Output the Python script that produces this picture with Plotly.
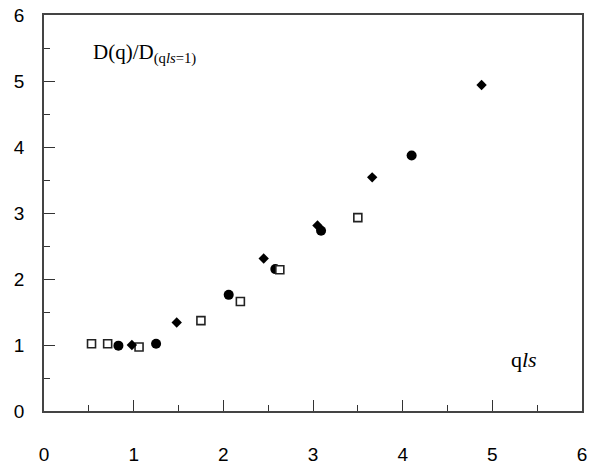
import plotly.graph_objects as go

# Data
circle_x = [0.83, 1.25, 2.06, 2.58, 3.09, 4.10]
circle_y = [0.99, 1.02, 1.76, 2.15, 2.73, 3.87]

diamond_x = [0.98, 1.48, 2.45, 3.05, 3.66, 4.88]
diamond_y = [1.00, 1.34, 2.31, 2.81, 3.54, 4.94]

square_x = [0.53, 0.71, 1.06, 1.75, 2.19, 2.63, 3.50]
square_y = [1.02, 1.02, 0.97, 1.37, 1.66, 2.14, 2.93]

tick_vals = [0, 1, 2, 3, 4, 5, 6]

fig = go.Figure()
fig.add_trace(go.Scatter(x=circle_x, y=circle_y, mode="markers",
                         marker=dict(symbol="circle", size=10, color="black"),
                         showlegend=False))
fig.add_trace(go.Scatter(x=square_x, y=square_y, mode="markers",
                         marker=dict(symbol="square", size=8, color="white",
                                     line=dict(color="#222", width=1.6)),
                         showlegend=False))
fig.add_trace(go.Scatter(x=diamond_x, y=diamond_y, mode="markers",
                         marker=dict(symbol="diamond", size=8, color="black"),
                         showlegend=False))

axis_common = dict(
    range=[0, 6], tickvals=tick_vals, ticks="inside", ticklen=11, tickwidth=1.3,
    tickcolor="#333", showline=True, linecolor="#444", linewidth=1.6, mirror=True,
    showgrid=False, zeroline=False, ticklabeloverflow="allow",
    tickfont=dict(family="Liberation Sans, Arial, sans-serif", size=19, color="black"),
    minor=dict(dtick=0.5, ticks="inside", ticklen=6, tickwidth=1.2, tickcolor="#333",
               showgrid=False),
)

fig.update_layout(
    width=590, height=468,
    margin=dict(l=44, r=3, t=15, b=50),
    paper_bgcolor="white", plot_bgcolor="white",
    xaxis=dict(axis_common, ticklabelstandoff=25),
    yaxis=dict(axis_common, ticklabelstandoff=14),
    annotations=[
        dict(x=0.52, y=5.42, xref="x", yref="y", xanchor="left", yanchor="middle",
             text="D(q)/D<sub>(q<i>ls</i>=1)</sub>", showarrow=False,
             font=dict(family="Liberation Serif, Times New Roman, serif", size=21,
                       color="black")),
        dict(x=5.35, y=0.78, xref="x", yref="y", xanchor="center", yanchor="middle",
             text="q<i>ls</i>", showarrow=False,
             font=dict(family="Liberation Serif, Times New Roman, serif", size=22,
                       color="black")),
    ],
)

fig.write_html("out.html")
